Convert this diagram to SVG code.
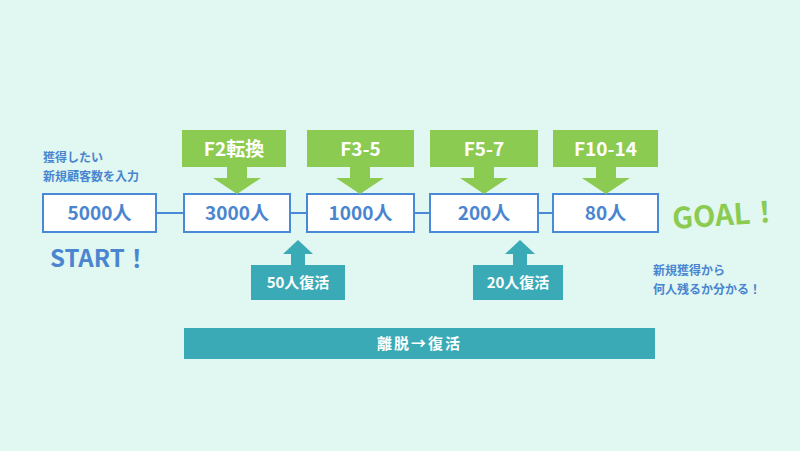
<svg xmlns="http://www.w3.org/2000/svg" width="800" height="451" viewBox="0 0 800 451">
<style>
text{font-family:"Noto Sans CJK JP","Noto Sans",sans-serif;font-weight:bold}
.box{fill:#fff;stroke:#4a88d8;stroke-width:2}
.num{fill:#4a85d0;font-size:19px;text-anchor:middle}
.g{fill:#8ccb52}
.t{fill:#3aabb6}
.wl{fill:#fff;font-size:19px;text-anchor:middle}
.ws{fill:#fff;font-size:15px;text-anchor:middle}
.note{fill:#4a85d0;font-size:12px}
</style>
<rect width="800" height="451" fill="#e1f7f1"/>
<g id="connectors" stroke="#4a88d8" stroke-width="2">
<line x1="156" y1="213" x2="184" y2="213"/>
<line x1="290" y1="213" x2="307" y2="213"/>
<line x1="414" y1="213" x2="430" y2="213"/>
<line x1="538" y1="213" x2="553" y2="213"/>
</g>
<g id="n1"><rect class="box" x="43" y="194" width="113" height="38"/><text class="num" x="99.5" y="220">5000人</text></g>
<g id="n2"><rect class="box" x="184" y="194" width="106" height="38"/><text class="num" x="237" y="220">3000人</text></g>
<g id="n3"><rect class="box" x="307" y="194" width="107" height="38"/><text class="num" x="360.5" y="220">1000人</text></g>
<g id="n4"><rect class="box" x="430" y="194" width="108" height="38"/><text class="num" x="484" y="220">200人</text></g>
<g id="n5"><rect class="box" x="553" y="194" width="105" height="38"/><text class="num" x="605.5" y="220">80人</text></g>
<g id="f2"><rect class="g" x="182" y="130" width="104" height="37"/><path class="g" d="M227 166h20v12h14l-24 16-24-16h14z"/><text class="wl" x="234" y="156">F2転換</text></g>
<g id="f3"><rect class="g" x="307" y="130" width="107" height="37"/><path class="g" d="M350 166h20v12h14l-24 16-24-16h14z"/><text class="wl" x="360.5" y="156">F3-5</text></g>
<g id="f5"><rect class="g" x="430" y="130" width="108" height="37"/><path class="g" d="M474 166h20v12h14l-24 16-24-16h14z"/><text class="wl" x="484" y="156">F5-7</text></g>
<g id="f10"><rect class="g" x="553" y="130" width="105" height="37"/><path class="g" d="M596 166h20v12h14l-24 16-24-16h14z"/><text class="wl" x="605.5" y="156">F10-14</text></g>
<g id="r50"><rect class="t" x="251" y="265" width="94" height="35"/><path class="t" d="M298 240l15 14h-8v12h-14v-12h-8z"/><text class="ws" x="298" y="288">50人復活</text></g>
<g id="r20"><rect class="t" x="473" y="265" width="90" height="35"/><path class="t" d="M520 240l15 14h-8v12h-14v-12h-8z"/><text class="ws" x="518" y="288">20人復活</text></g>
<g id="bar"><rect class="t" x="184" y="328" width="471" height="31"/><text class="ws" x="419.5" y="349" style="letter-spacing:2px">離脱→復活</text></g>
<g id="start"><text x="43" y="162" class="note">獲得したい</text><text x="43" y="181" class="note">新規顧客数を入力</text><text x="50" y="267" fill="#4a85d0" font-size="24">START！</text></g>
<g id="goal"><text x="673" y="229" fill="#8ccb52" font-size="29" transform="rotate(-4 673 229)">GOAL！</text><text x="653" y="275" class="note">新規獲得から</text><text x="653" y="294" class="note">何人残るか分かる！</text></g>
</svg>
